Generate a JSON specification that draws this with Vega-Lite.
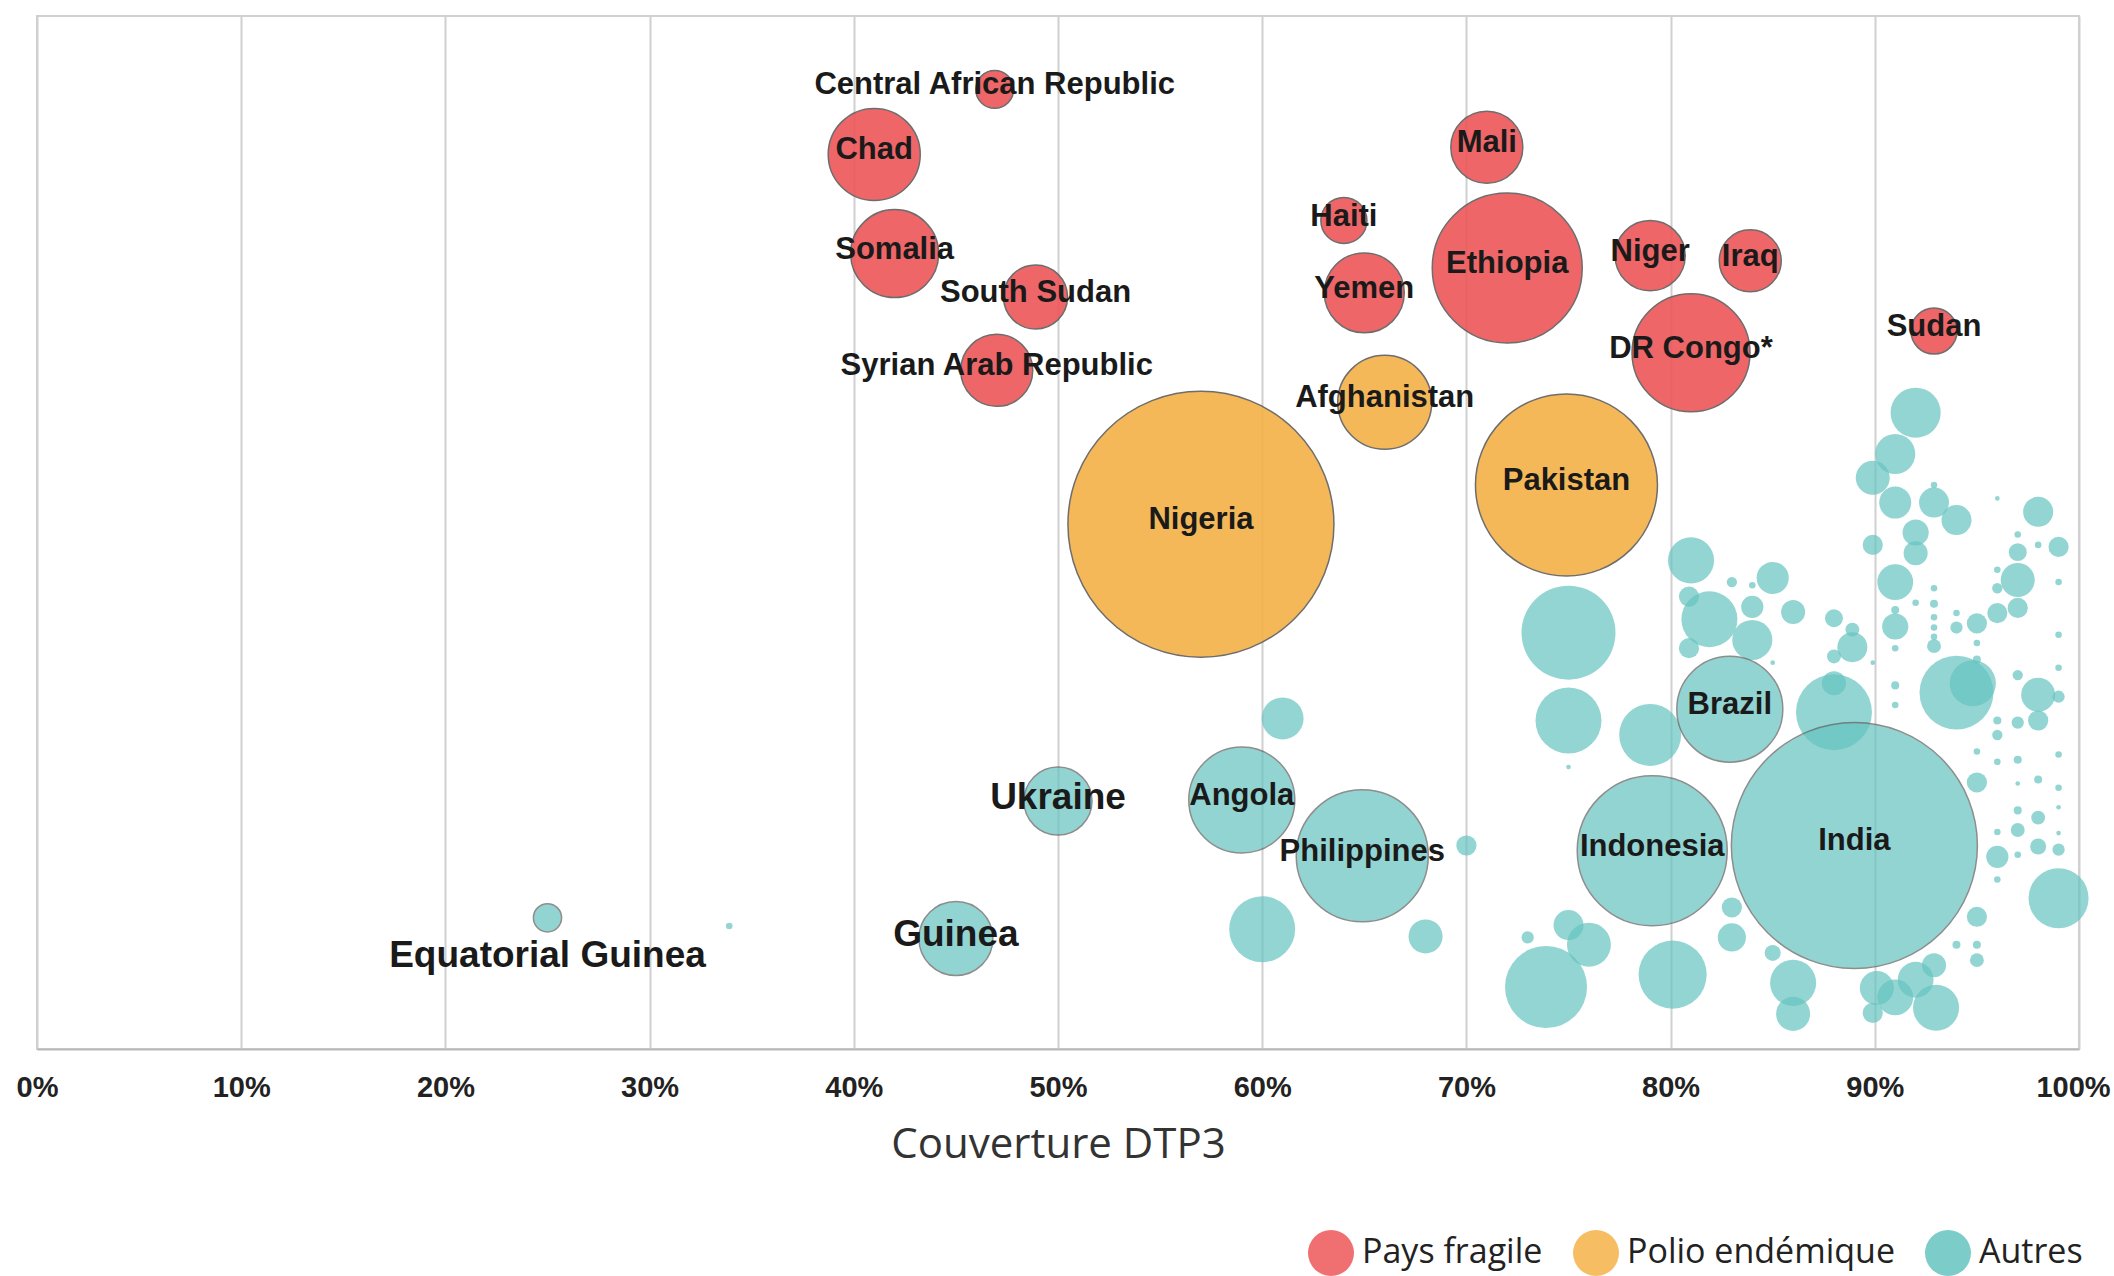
{
  "$schema": "https://vega.github.io/schema/vega-lite/v6.json",
  "autosize": {"type": "none"},
  "padding": {"left": 37, "top": 16, "right": 35, "bottom": 227},
  "width": 2042,
  "height": 1033,
  "background": "white",
  "config": {
    "view": {"stroke": "#d0d0d0", "strokeWidth": 2},
    "axisX": {
      "grid": true, "gridColor": "#d0d0d0", "gridWidth": 2,
      "domainColor": "#b8b8b8", "domainWidth": 2,
      "ticks": false,
      "labelFont": "Liberation Sans", "labelFontWeight": "bold", "labelFontSize": 29,
      "labelColor": "#222222", "labelPadding": 24, "labelOverlap": false, "labelFlush": false, "labelBound": false,
      "titleFont": "Open Sans", "titleFontWeight": "normal", "titleFontSize": 42,
      "titleColor": "#333333", "titlePadding": 22
    },
    "legend": {
      "orient": "none", "legendX": 1271, "legendY": 1214, "direction": "horizontal",
      "padding": 0, "symbolType": "circle", "symbolSize": 2116, "symbolStrokeWidth": 0,
      "labelFont": "Open Sans", "labelFontSize": 34, "labelColor": "#222222", "labelLimit": 500,
      "labelOffset": 8, "columnPadding": 30, "title": null
    }
  },
  "data": {
    "values": [
      {"pays": "", "groupe": "Autres", "dtp3": 33.9, "pos": 11.9, "nonvac": 2},
      {"pays": "", "groupe": "Autres", "dtp3": 61.0, "pos": 32.0, "nonvac": 82},
      {"pays": "", "groupe": "Autres", "dtp3": 60.0, "pos": 11.6, "nonvac": 203},
      {"pays": "", "groupe": "Autres", "dtp3": 68.0, "pos": 10.9, "nonvac": 54},
      {"pays": "", "groupe": "Autres", "dtp3": 70.0, "pos": 19.7, "nonvac": 19},
      {"pays": "", "groupe": "Autres", "dtp3": 75.0, "pos": 40.3, "nonvac": 412},
      {"pays": "", "groupe": "Autres", "dtp3": 75.0, "pos": 31.8, "nonvac": 203},
      {"pays": "", "groupe": "Autres", "dtp3": 79.0, "pos": 30.4, "nonvac": 179},
      {"pays": "", "groupe": "Autres", "dtp3": 81.0, "pos": 47.3, "nonvac": 99},
      {"pays": "", "groupe": "Autres", "dtp3": 81.9, "pos": 41.6, "nonvac": 146},
      {"pays": "", "groupe": "Autres", "dtp3": 80.9, "pos": 38.8, "nonvac": 19},
      {"pays": "", "groupe": "Autres", "dtp3": 80.9, "pos": 43.8, "nonvac": 19},
      {"pays": "", "groupe": "Autres", "dtp3": 84.0, "pos": 42.8, "nonvac": 23},
      {"pays": "", "groupe": "Autres", "dtp3": 84.0, "pos": 39.6, "nonvac": 75},
      {"pays": "", "groupe": "Autres", "dtp3": 85.0, "pos": 45.6, "nonvac": 48},
      {"pays": "", "groupe": "Autres", "dtp3": 86.0, "pos": 42.3, "nonvac": 27},
      {"pays": "", "groupe": "Autres", "dtp3": 83.0, "pos": 45.2, "nonvac": 5},
      {"pays": "", "groupe": "Autres", "dtp3": 84.0, "pos": 44.9, "nonvac": 2},
      {"pays": "", "groupe": "Autres", "dtp3": 85.0, "pos": 37.4, "nonvac": 1},
      {"pays": "", "groupe": "Autres", "dtp3": 88.0, "pos": 41.7, "nonvac": 15},
      {"pays": "", "groupe": "Autres", "dtp3": 88.0, "pos": 38.0, "nonvac": 9},
      {"pays": "", "groupe": "Autres", "dtp3": 88.0, "pos": 32.6, "nonvac": 269},
      {"pays": "", "groupe": "Autres", "dtp3": 88.0, "pos": 35.4, "nonvac": 27},
      {"pays": "", "groupe": "Autres", "dtp3": 88.9, "pos": 38.9, "nonvac": 42},
      {"pays": "", "groupe": "Autres", "dtp3": 88.9, "pos": 40.6, "nonvac": 9},
      {"pays": "", "groupe": "Autres", "dtp3": 92.0, "pos": 61.6, "nonvac": 117},
      {"pays": "", "groupe": "Autres", "dtp3": 91.0, "pos": 57.6, "nonvac": 75},
      {"pays": "", "groupe": "Autres", "dtp3": 89.9, "pos": 55.3, "nonvac": 54},
      {"pays": "", "groupe": "Autres", "dtp3": 91.0, "pos": 52.9, "nonvac": 48},
      {"pays": "", "groupe": "Autres", "dtp3": 92.9, "pos": 52.9, "nonvac": 42},
      {"pays": "", "groupe": "Autres", "dtp3": 94.0, "pos": 51.2, "nonvac": 42},
      {"pays": "", "groupe": "Autres", "dtp3": 92.0, "pos": 50.0, "nonvac": 32},
      {"pays": "", "groupe": "Autres", "dtp3": 92.0, "pos": 48.0, "nonvac": 27},
      {"pays": "", "groupe": "Autres", "dtp3": 89.9, "pos": 48.8, "nonvac": 19},
      {"pays": "", "groupe": "Autres", "dtp3": 91.0, "pos": 45.2, "nonvac": 60},
      {"pays": "", "groupe": "Autres", "dtp3": 91.0, "pos": 40.9, "nonvac": 32},
      {"pays": "", "groupe": "Autres", "dtp3": 91.0, "pos": 42.5, "nonvac": 3},
      {"pays": "", "groupe": "Autres", "dtp3": 92.0, "pos": 43.2, "nonvac": 2},
      {"pays": "", "groupe": "Autres", "dtp3": 91.0, "pos": 38.8, "nonvac": 2},
      {"pays": "", "groupe": "Autres", "dtp3": 91.0, "pos": 35.2, "nonvac": 3},
      {"pays": "", "groupe": "Autres", "dtp3": 91.0, "pos": 33.3, "nonvac": 2},
      {"pays": "", "groupe": "Autres", "dtp3": 92.9, "pos": 44.6, "nonvac": 2},
      {"pays": "", "groupe": "Autres", "dtp3": 92.9, "pos": 43.1, "nonvac": 3},
      {"pays": "", "groupe": "Autres", "dtp3": 92.9, "pos": 41.8, "nonvac": 2},
      {"pays": "", "groupe": "Autres", "dtp3": 92.9, "pos": 40.8, "nonvac": 2},
      {"pays": "", "groupe": "Autres", "dtp3": 92.9, "pos": 39.9, "nonvac": 2},
      {"pays": "", "groupe": "Autres", "dtp3": 92.9, "pos": 39.0, "nonvac": 9},
      {"pays": "", "groupe": "Autres", "dtp3": 92.9, "pos": 54.6, "nonvac": 2},
      {"pays": "", "groupe": "Autres", "dtp3": 94.0, "pos": 42.2, "nonvac": 2},
      {"pays": "", "groupe": "Autres", "dtp3": 94.0, "pos": 40.8, "nonvac": 7},
      {"pays": "", "groupe": "Autres", "dtp3": 95.0, "pos": 41.2, "nonvac": 19},
      {"pays": "", "groupe": "Autres", "dtp3": 96.0, "pos": 42.2, "nonvac": 19},
      {"pays": "", "groupe": "Autres", "dtp3": 97.0, "pos": 42.7, "nonvac": 19},
      {"pays": "", "groupe": "Autres", "dtp3": 97.0, "pos": 45.4, "nonvac": 54},
      {"pays": "", "groupe": "Autres", "dtp3": 97.0, "pos": 48.1, "nonvac": 15},
      {"pays": "", "groupe": "Autres", "dtp3": 96.0, "pos": 44.6, "nonvac": 5},
      {"pays": "", "groupe": "Autres", "dtp3": 96.0, "pos": 46.4, "nonvac": 2},
      {"pays": "", "groupe": "Autres", "dtp3": 97.0, "pos": 49.8, "nonvac": 2},
      {"pays": "", "groupe": "Autres", "dtp3": 98.0, "pos": 52.0, "nonvac": 42},
      {"pays": "", "groupe": "Autres", "dtp3": 99.0, "pos": 48.6, "nonvac": 19},
      {"pays": "", "groupe": "Autres", "dtp3": 98.0, "pos": 48.8, "nonvac": 2},
      {"pays": "", "groupe": "Autres", "dtp3": 99.0, "pos": 45.2, "nonvac": 2},
      {"pays": "", "groupe": "Autres", "dtp3": 96.0, "pos": 53.3, "nonvac": 1},
      {"pays": "", "groupe": "Autres", "dtp3": 99.0, "pos": 40.1, "nonvac": 2},
      {"pays": "", "groupe": "Autres", "dtp3": 99.0, "pos": 36.9, "nonvac": 2},
      {"pays": "", "groupe": "Autres", "dtp3": 99.0, "pos": 34.1, "nonvac": 7},
      {"pays": "", "groupe": "Autres", "dtp3": 98.0, "pos": 34.3, "nonvac": 54},
      {"pays": "", "groupe": "Autres", "dtp3": 98.0, "pos": 31.8, "nonvac": 19},
      {"pays": "", "groupe": "Autres", "dtp3": 97.0, "pos": 36.2, "nonvac": 5},
      {"pays": "", "groupe": "Autres", "dtp3": 97.0, "pos": 31.6, "nonvac": 7},
      {"pays": "", "groupe": "Autres", "dtp3": 96.0, "pos": 31.8, "nonvac": 3},
      {"pays": "", "groupe": "Autres", "dtp3": 95.0, "pos": 37.7, "nonvac": 3},
      {"pays": "", "groupe": "Autres", "dtp3": 95.0, "pos": 39.3, "nonvac": 2},
      {"pays": "", "groupe": "Autres", "dtp3": 94.0, "pos": 34.5, "nonvac": 255},
      {"pays": "", "groupe": "Autres", "dtp3": 94.8, "pos": 35.4, "nonvac": 99},
      {"pays": "", "groupe": "Autres", "dtp3": 89.9, "pos": 37.4, "nonvac": 1},
      {"pays": "", "groupe": "Autres", "dtp3": 96.0, "pos": 30.4, "nonvac": 5},
      {"pays": "", "groupe": "Autres", "dtp3": 95.0, "pos": 28.8, "nonvac": 2},
      {"pays": "", "groupe": "Autres", "dtp3": 95.0, "pos": 25.8, "nonvac": 19},
      {"pays": "", "groupe": "Autres", "dtp3": 96.0, "pos": 27.8, "nonvac": 2},
      {"pays": "", "groupe": "Autres", "dtp3": 96.0, "pos": 21.0, "nonvac": 2},
      {"pays": "", "groupe": "Autres", "dtp3": 96.0, "pos": 18.6, "nonvac": 23},
      {"pays": "", "groupe": "Autres", "dtp3": 96.0, "pos": 16.4, "nonvac": 2},
      {"pays": "", "groupe": "Autres", "dtp3": 97.0, "pos": 28.0, "nonvac": 3},
      {"pays": "", "groupe": "Autres", "dtp3": 97.0, "pos": 23.1, "nonvac": 3},
      {"pays": "", "groupe": "Autres", "dtp3": 97.0, "pos": 21.2, "nonvac": 9},
      {"pays": "", "groupe": "Autres", "dtp3": 97.0, "pos": 18.8, "nonvac": 2},
      {"pays": "", "groupe": "Autres", "dtp3": 97.0, "pos": 25.7, "nonvac": 1},
      {"pays": "", "groupe": "Autres", "dtp3": 98.0, "pos": 26.1, "nonvac": 3},
      {"pays": "", "groupe": "Autres", "dtp3": 98.0, "pos": 22.4, "nonvac": 9},
      {"pays": "", "groupe": "Autres", "dtp3": 98.0, "pos": 19.6, "nonvac": 12},
      {"pays": "", "groupe": "Autres", "dtp3": 99.0, "pos": 28.5, "nonvac": 2},
      {"pays": "", "groupe": "Autres", "dtp3": 99.0, "pos": 25.3, "nonvac": 2},
      {"pays": "", "groupe": "Autres", "dtp3": 99.0, "pos": 23.4, "nonvac": 1},
      {"pays": "", "groupe": "Autres", "dtp3": 99.0, "pos": 20.9, "nonvac": 1},
      {"pays": "", "groupe": "Autres", "dtp3": 99.0, "pos": 19.3, "nonvac": 7},
      {"pays": "", "groupe": "Autres", "dtp3": 99.0, "pos": 14.6, "nonvac": 168},
      {"pays": "", "groupe": "Autres", "dtp3": 95.0, "pos": 12.8, "nonvac": 19},
      {"pays": "", "groupe": "Autres", "dtp3": 95.0, "pos": 10.1, "nonvac": 3},
      {"pays": "", "groupe": "Autres", "dtp3": 95.0, "pos": 8.6, "nonvac": 9},
      {"pays": "", "groupe": "Autres", "dtp3": 94.0, "pos": 10.1, "nonvac": 3},
      {"pays": "", "groupe": "Autres", "dtp3": 92.9, "pos": 8.1, "nonvac": 27},
      {"pays": "", "groupe": "Autres", "dtp3": 93.0, "pos": 4.0, "nonvac": 99},
      {"pays": "", "groupe": "Autres", "dtp3": 92.0, "pos": 6.7, "nonvac": 60},
      {"pays": "", "groupe": "Autres", "dtp3": 91.0, "pos": 5.0, "nonvac": 60},
      {"pays": "", "groupe": "Autres", "dtp3": 90.1, "pos": 5.9, "nonvac": 54},
      {"pays": "", "groupe": "Autres", "dtp3": 89.9, "pos": 3.5, "nonvac": 19},
      {"pays": "", "groupe": "Autres", "dtp3": 86.0, "pos": 6.4, "nonvac": 99},
      {"pays": "", "groupe": "Autres", "dtp3": 86.0, "pos": 3.4, "nonvac": 54},
      {"pays": "", "groupe": "Autres", "dtp3": 85.0, "pos": 9.3, "nonvac": 12},
      {"pays": "", "groupe": "Autres", "dtp3": 83.0, "pos": 13.7, "nonvac": 19},
      {"pays": "", "groupe": "Autres", "dtp3": 83.0, "pos": 10.8, "nonvac": 37},
      {"pays": "", "groupe": "Autres", "dtp3": 80.1, "pos": 7.2, "nonvac": 216},
      {"pays": "", "groupe": "Autres", "dtp3": 73.9, "pos": 6.0, "nonvac": 314},
      {"pays": "", "groupe": "Autres", "dtp3": 76.0, "pos": 10.1, "nonvac": 90},
      {"pays": "", "groupe": "Autres", "dtp3": 75.0, "pos": 12.0, "nonvac": 42},
      {"pays": "", "groupe": "Autres", "dtp3": 73.0, "pos": 10.8, "nonvac": 7},
      {"pays": "", "groupe": "Autres", "dtp3": 75.0, "pos": 27.3, "nonvac": 1},
      {"pays": "India", "groupe": "Autres", "dtp3": 89.0, "pos": 19.7, "nonvac": 2823},
      {"pays": "Indonesia", "groupe": "Autres", "dtp3": 79.1, "pos": 19.2, "nonvac": 1049},
      {"pays": "Brazil", "groupe": "Autres", "dtp3": 82.9, "pos": 32.9, "nonvac": 524},
      {"pays": "Philippines", "groupe": "Autres", "dtp3": 64.9, "pos": 18.7, "nonvac": 813},
      {"pays": "Angola", "groupe": "Autres", "dtp3": 59.0, "pos": 24.1, "nonvac": 524},
      {"pays": "Ukraine", "groupe": "Autres", "dtp3": 50.0, "pos": 24.0, "nonvac": 216},
      {"pays": "Guinea", "groupe": "Autres", "dtp3": 45.0, "pos": 10.7, "nonvac": 255},
      {"pays": "Equatorial Guinea", "groupe": "Autres", "dtp3": 25.0, "pos": 12.7, "nonvac": 37},
      {"pays": "Afghanistan", "groupe": "Polio endémique", "dtp3": 66.0, "pos": 62.6, "nonvac": 412},
      {"pays": "Nigeria", "groupe": "Polio endémique", "dtp3": 57.0, "pos": 50.8, "nonvac": 3300},
      {"pays": "Pakistan", "groupe": "Polio endémique", "dtp3": 74.9, "pos": 54.6, "nonvac": 1545},
      {"pays": "Central African Republic", "groupe": "Pays fragile", "dtp3": 46.9, "pos": 92.9, "nonvac": 67},
      {"pays": "Chad", "groupe": "Pays fragile", "dtp3": 41.0, "pos": 86.6, "nonvac": 395},
      {"pays": "Somalia", "groupe": "Pays fragile", "dtp3": 42.0, "pos": 77.0, "nonvac": 361},
      {"pays": "South Sudan", "groupe": "Pays fragile", "dtp3": 48.9, "pos": 72.8, "nonvac": 191},
      {"pays": "Syrian Arab Republic", "groupe": "Pays fragile", "dtp3": 47.0, "pos": 65.7, "nonvac": 242},
      {"pays": "Mali", "groupe": "Pays fragile", "dtp3": 71.0, "pos": 87.3, "nonvac": 242},
      {"pays": "Haiti", "groupe": "Pays fragile", "dtp3": 64.0, "pos": 80.2, "nonvac": 99},
      {"pays": "Yemen", "groupe": "Pays fragile", "dtp3": 65.0, "pos": 73.2, "nonvac": 298},
      {"pays": "Ethiopia", "groupe": "Pays fragile", "dtp3": 72.0, "pos": 75.6, "nonvac": 1049},
      {"pays": "Niger", "groupe": "Pays fragile", "dtp3": 79.0, "pos": 76.8, "nonvac": 229},
      {"pays": "Iraq", "groupe": "Pays fragile", "dtp3": 83.9, "pos": 76.3, "nonvac": 179},
      {"pays": "DR Congo*", "groupe": "Pays fragile", "dtp3": 81.0, "pos": 67.4, "nonvac": 649},
      {"pays": "Sudan", "groupe": "Pays fragile", "dtp3": 92.9, "pos": 69.5, "nonvac": 99}
    ]
  },
  "encoding": {
    "x": {
      "field": "dtp3", "type": "quantitative",
      "scale": {"domain": [0, 100], "nice": false},
      "axis": {
        "values": [0, 10, 20, 30, 40, 50, 60, 70, 80, 90, 100],
        "labelExpr": "datum.value + '%'",
        "labelOffset": {"condition": {"test": "datum.value == 100", "value": -6}, "value": 0},
        "title": "Couverture DTP3"
      }
    },
    "y": {
      "field": "pos", "type": "quantitative",
      "scale": {"domain": [0, 100], "nice": false},
      "axis": null
    }
  },
  "layer": [
    {
      "mark": {"type": "circle", "stroke": "#5e5e5e"},
      "encoding": {
        "size": {
          "field": "nonvac", "type": "quantitative",
          "scale": {"type": "linear", "domain": [0, 3300], "range": [0, 70756], "zero": true},
          "legend": null
        },
        "color": {
          "field": "groupe", "type": "nominal",
          "scale": {"domain": ["Pays fragile", "Polio endémique", "Autres"], "range": ["#ED5658", "#F5B147", "#65C3BF"]},
          "legend": {
            "title": null,
            "symbolOpacity": 0.85
          }
        },
        "opacity": {
          "condition": {"test": "datum.groupe == 'Autres'", "value": 0.7},
          "value": 0.9
        },
        "strokeWidth": {
          "condition": {"test": "datum.pays != ''", "value": 1.5},
          "value": 0
        }
      }
    },
    {
      "transform": [{"filter": "datum.pays != '' && indexof(['Ukraine', 'Guinea', 'Equatorial Guinea'], datum.pays) < 0"}],
      "mark": {"type": "text", "font": "Liberation Sans", "fontWeight": "bold", "fontSize": 31, "align": "center", "baseline": "middle", "dy": -4, "color": "#1a1a1a"},
      "encoding": {"text": {"field": "pays"}}
    },
    {
      "transform": [{"filter": "datum.pays == 'Ukraine' || datum.pays == 'Guinea'"}],
      "mark": {"type": "text", "font": "Liberation Sans", "fontWeight": "bold", "fontSize": 37, "align": "center", "baseline": "middle", "dy": -3, "color": "#1a1a1a"},
      "encoding": {"text": {"field": "pays"}}
    },
    {
      "transform": [{"filter": "datum.pays == 'Equatorial Guinea'"}],
      "mark": {"type": "text", "font": "Liberation Sans", "fontWeight": "bold", "fontSize": 37, "align": "center", "baseline": "middle", "dy": 38, "color": "#1a1a1a"},
      "encoding": {"text": {"field": "pays"}}
    }
  ]
}
